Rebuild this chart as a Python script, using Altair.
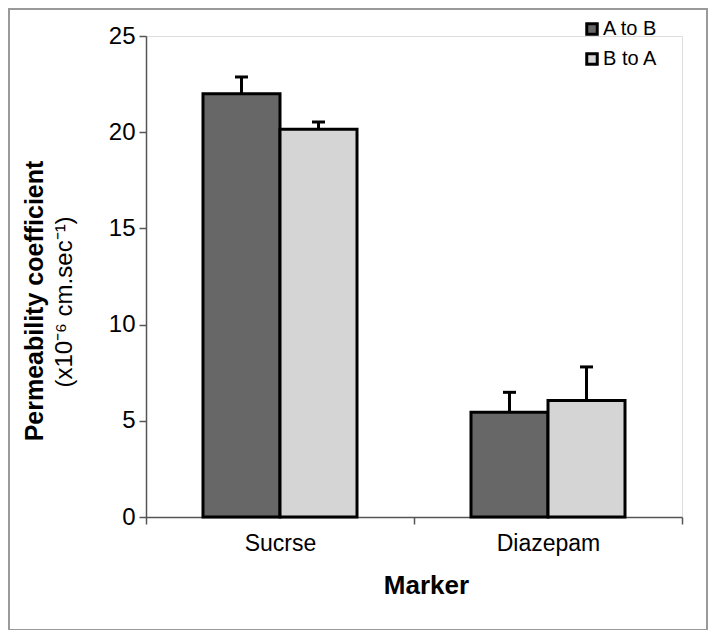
import altair as alt
import pandas as pd

markers = ["Sucrse", "Sucrse", "Diazepam", "Diazepam"]
directions = ["A to B", "B to A", "A to B", "B to A"]
values = [22.0, 20.15, 5.45, 6.05]
errors = [0.87, 0.38, 1.03, 1.75]

df = pd.DataFrame({"marker": markers, "dir": directions, "value": values, "err": errors})
df["top"] = df["value"] + df["err"]

cat_order = ["Sucrse", "Diazepam"]
dir_order = ["A to B", "B to A"]
colors = ["#676767", "#d5d5d5"]

W, H = 536, 481

x_enc = alt.X("marker:N", sort=cat_order,
              scale=alt.Scale(paddingInner=0, paddingOuter=0),
              axis=alt.Axis(title="Marker", labelAngle=0, tickBand="extent",
                            labelFontSize=23, labelFont="Liberation Sans", labelColor="black",
                            labelPadding=8, tickSize=7, tickColor="#555", domainColor="#555",
                            tickWidth=1.5, domainWidth=1.5,
                            titleFontSize=26, titleFont="Liberation Sans", titleFontWeight="bold",
                            titleColor="black", titleX=280, titleY=76, titleBaseline="alphabetic"))
xo_enc = alt.XOffset("dir:N", sort=dir_order, scale=alt.Scale(paddingInner=0, paddingOuter=0.74))

y_scale = alt.Scale(domain=[0, 25], nice=False)

base = alt.Chart(df)

bars = base.mark_bar(stroke="black", strokeWidth=3, opacity=1).encode(
    x=x_enc,
    xOffset=xo_enc,
    y=alt.Y("value:Q", scale=y_scale,
            axis=alt.Axis(title=None, values=[0, 5, 10, 15, 20, 25], grid=False,
                          labelFontSize=24, labelFont="Liberation Sans", labelColor="black",
                          labelPadding=4, tickSize=7, tickColor="#555", domainColor="#555",
                          tickWidth=1.5, domainWidth=1.5)),
    color=alt.Color("dir:N", sort=dir_order,
                    scale=alt.Scale(domain=dir_order, range=colors),
                    legend=alt.Legend(title=None, orient="none", legendX=436, legendY=-17,
                                      symbolType="square", symbolSize=110,
                                      symbolStrokeColor="black", symbolStrokeWidth=3,
                                      symbolOpacity=1, labelFontSize=20,
                                      labelFont="Liberation Sans", labelColor="black",
                                      labelOffset=1, rowPadding=6, padding=0)),
)

err_line = base.mark_rule(color="black", strokeWidth=3).encode(
    x=alt.X("marker:N", sort=cat_order),
    xOffset=alt.XOffset("dir:N", sort=dir_order),
    y=alt.Y("value:Q", scale=y_scale),
    y2="top:Q",
)

err_cap = base.mark_tick(color="black", thickness=3, size=13, opacity=1).encode(
    x=alt.X("marker:N", sort=cat_order),
    xOffset=alt.XOffset("dir:N", sort=dir_order),
    y=alt.Y("top:Q", scale=y_scale),
)

title_lines = ["Permeability coefficient", "(x10\u207b\u2076 cm.sec\u207b\u00b9)"]

t1 = alt.Chart(pd.DataFrame({"t": [title_lines[0]]})).mark_text(
    angle=270, align="center", baseline="alphabetic", fontSize=25, fontWeight="bold",
    font="Liberation Sans", color="black"
).encode(text="t:N", x=alt.value(-103), y=alt.value(265))

t2 = alt.Chart(pd.DataFrame({"t": [title_lines[1]]})).mark_text(
    angle=270, align="center", baseline="alphabetic", fontSize=24,
    font="Liberation Sans", color="black"
).encode(text="t:N", x=alt.value(-74), y=alt.value(266))

frame = alt.Chart(pd.DataFrame({"a": [0]})).mark_rect(
    fill=None, stroke="#9a9a9a", strokeWidth=2
).encode(x=alt.value(-137), x2=alt.value(561), y=alt.value(-27), y2=alt.value(594))

chart = alt.layer(frame, bars, err_line, err_cap, t1, t2).properties(
    width=W, height=H,
    autosize=alt.AutoSizeParams(type="none"),
    padding={"left": 138, "top": 28, "right": 26, "bottom": 113},
).configure_view(stroke=None).configure(background="white")

chart.save("out.html", embed_options={"renderer": "svg", "actions": False})
